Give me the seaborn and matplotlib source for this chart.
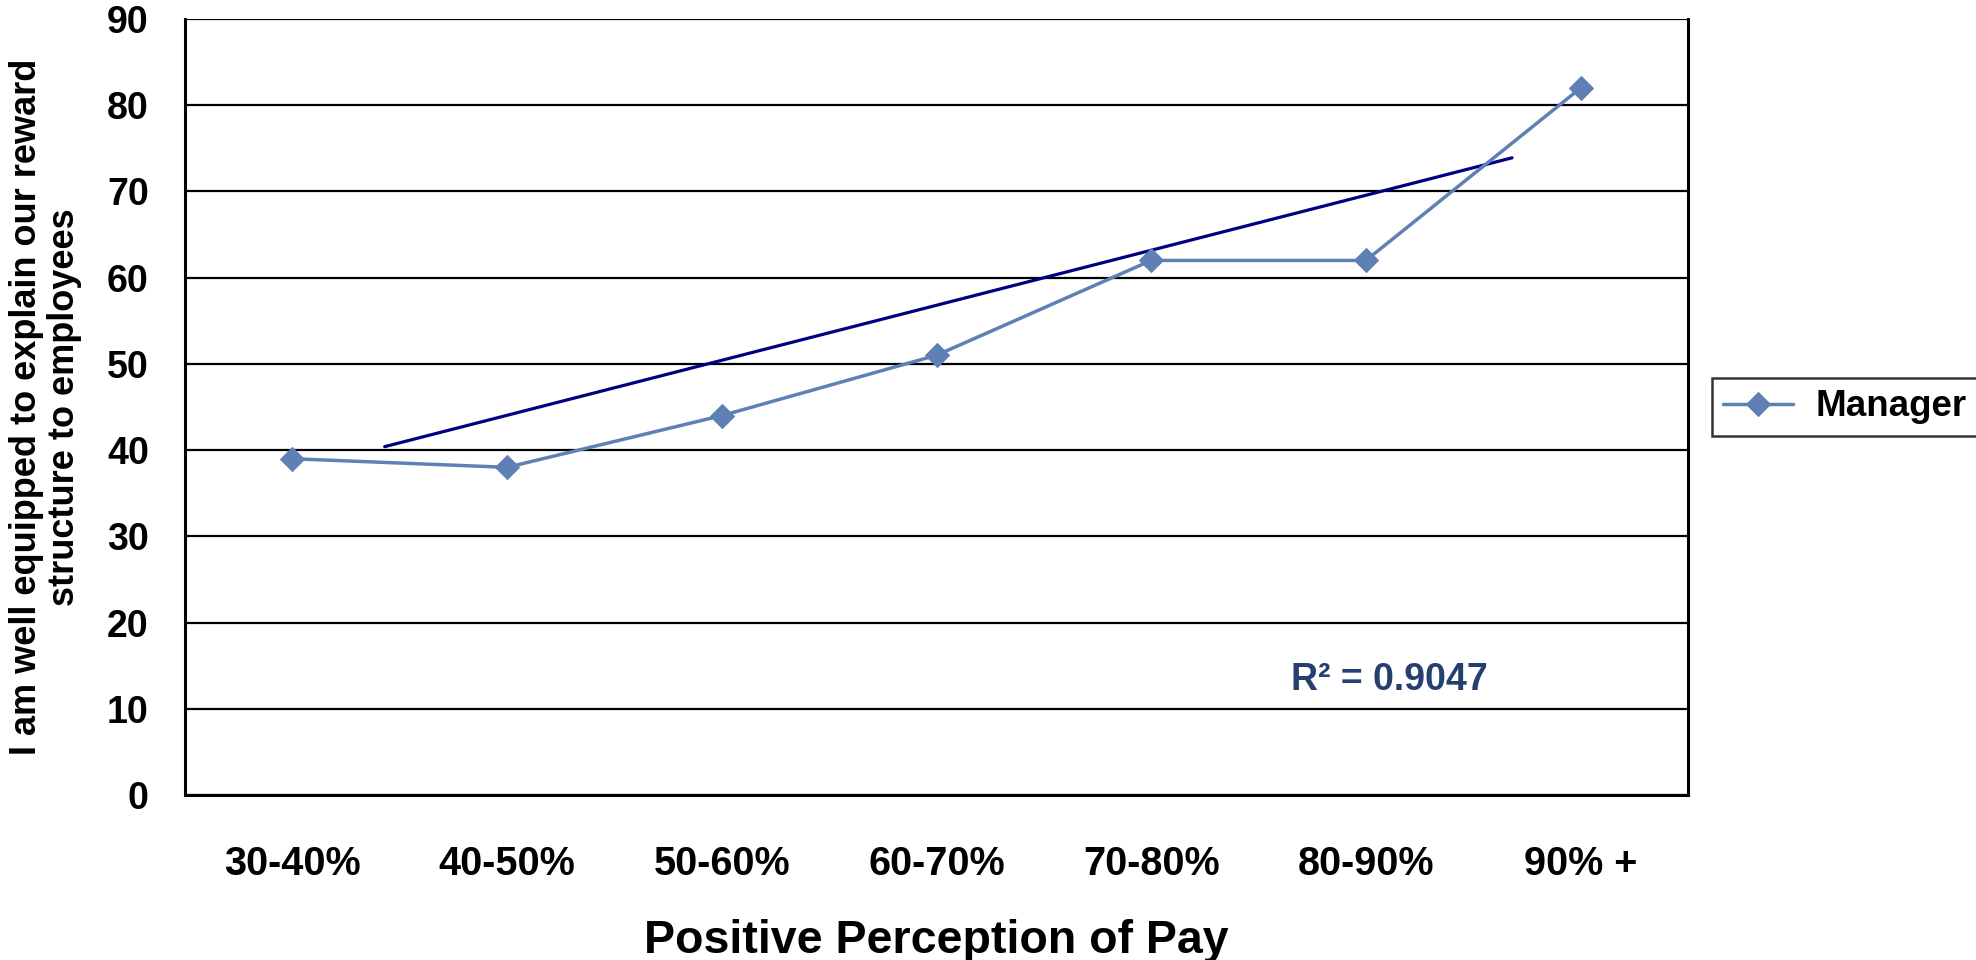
import numpy as np
import pandas as pd
import matplotlib
matplotlib.use('Agg')
import matplotlib.pyplot as plt
import seaborn as sns

# data
categories = ['30-40%', '40-50%', '50-60%', '60-70%', '70-80%', '80-90%', '90% +']
manager = [39, 38, 44, 51, 62, 62, 82]
# trend line as drawn in the original (category position, value at its two ends)
trend_pos = [0.43, 5.68]
trend_val = [40.4, 73.9]
r2_label = 'R² = 0.9047'

sns.set_style('white')
plt.rcParams['font.family'] = ['Liberation Sans', 'DejaVu Sans']
plt.rcParams['font.weight'] = 'bold'
plt.rcParams['text.color'] = 'black'
plt.rcParams['axes.labelcolor'] = 'black'
plt.rcParams['xtick.color'] = 'black'
plt.rcParams['ytick.color'] = 'black'

df = pd.DataFrame({'pos': np.arange(len(categories)), 'Manager': manager})

fig = plt.figure(figsize=(19.76, 9.6), dpi=100)
ax = fig.add_axes([0.0936, 0.1719, 0.7607, 0.8083])

ax.yaxis.grid(True, color='black', linewidth=1.6)
ax.set_axisbelow(True)

ax.plot(trend_pos, trend_val, color='#000080', linewidth=2.3, zorder=3)
sns.lineplot(data=df, x='pos', y='Manager', marker='D', markersize=12,
             color='#5f80b5', markeredgecolor='#5f80b5', linewidth=2.5,
             label='Manager', ax=ax, zorder=4)

ax.set_xlim(-0.5, len(categories) - 0.5)
ax.set_ylim(0, 90)
ax.set_yticks(range(0, 91, 10))
ax.set_xticks(range(len(categories)))
ax.set_xticklabels(categories)
ax.set_xticks(np.arange(-0.5, len(categories), 1), minor=True)
ax.tick_params(axis='x', which='major', length=0, pad=36, labelsize=28.5)
ax.tick_params(axis='x', which='minor', length=10, width=1.8, color='black')
ax.tick_params(axis='y', length=10, width=1.6, color='black', pad=16, labelsize=27)
for lab in ax.get_xticklabels() + ax.get_yticklabels():
    lab.set_fontweight('bold')

for side in ['left', 'bottom', 'right']:
    ax.spines[side].set_color('black')
    ax.spines[side].set_linewidth(2.2)
ax.spines['top'].set_visible(False)

ax.set_xlabel('Positive Perception of Pay', fontsize=33.5, fontweight='bold', labelpad=26)
ax.set_ylabel('I am well equipped to explain our reward\nstructure to employees',
              fontsize=26, fontweight='bold', labelpad=18, linespacing=1.1)

ax.text(4.65, 13.3, r2_label, color='#253f6e', fontsize=27, fontweight='bold',
        ha='left', va='center')

leg = ax.legend(loc='center left', bbox_to_anchor=(1.016, 0.5), fontsize=26.5,
                frameon=True, fancybox=False, edgecolor='black', handlelength=1.9,
                handletextpad=0.6, borderpad=0.3, borderaxespad=0)
leg.get_frame().set_linewidth(1.8)
for t in leg.get_texts():
    t.set_fontweight('bold')

fig.savefig('out.png', dpi=100, facecolor='white')
